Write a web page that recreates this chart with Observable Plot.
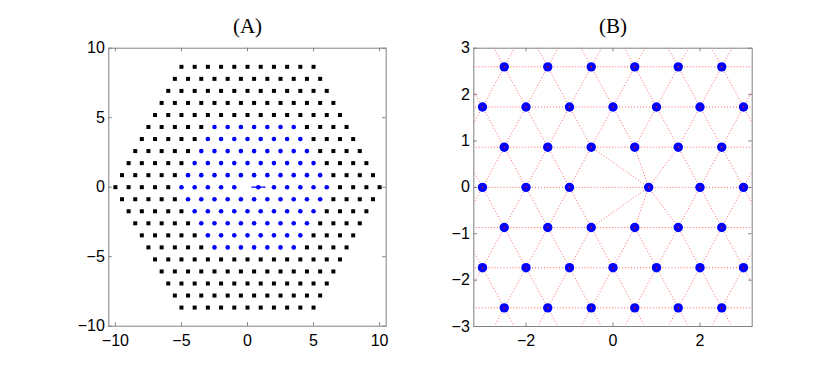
<!DOCTYPE html>
<html>
<head>
<meta charset="utf-8">
<script src="https://cdn.jsdelivr.net/npm/d3@7"></script>
<script src="https://cdn.jsdelivr.net/npm/@observablehq/plot@0.6"></script>
<style>
  html, body { margin: 0; padding: 0; background: #fff; }
  #wrap { position: relative; width: 830px; height: 389px; background: #fff; }
  #wrap svg { position: absolute; top: 0; }
</style>
</head>
<body>
<div id="wrap"></div>
<script>
// ---- Data: triangular lattice (spacing 1), rows k with y = k·√3/2 ----
const rowK       = [-10,-9,-8,-7,-6,-5,-4,-3,-2,-1,0,1,2,3,4,5,6,7,8,9,10];
const outerLeft  = [-5,-5.5,-6,-6.5,-7,-7.5,-8,-8.5,-9,-9.5,-10,-9.5,-9,-8.5,-8,-7.5,-7,-6.5,-6,-5.5,-5];
const outerRight = [5,5.5,6,6.5,7,7.5,8,8.5,9,9.5,10,9.5,9,8.5,8,7.5,7,6.5,6,5.5,5];
// inner (blue) region rows
const innerK     = [-5,-4,-3,-2,-1,0,1,2,3,4,5];
const innerLeft  = [-2.5,-3,-3.5,-4,-4.5,-5,-4.5,-4,-3.5,-3,-2.5];
const innerRight = [3.5,4,4.5,5,5.5,6,5.5,5,4.5,4,3.5];
// vacancies on row 0 and the displaced defect particle
const vacancyX   = [0, 1];
const defectX    = [0.82];
const defectY    = [0];
const defectPathX = [0.33, 1.33];
// neighbours of the defect in the mesh of panel B: [x, row k]
const defectNbrX = [-1, -0.5, 0.5, 1.5, 2, 1.5, 0.5, -0.5];
const defectNbrK = [0, 1, 1, 1, 0, -1, -1, -1];
// ticks
const ticksA  = [-10, -5, 0, 5, 10];
const ticksBx = [-2, 0, 2];
const ticksBy = [-3, -2, -1, 0, 1, 2, 3];
const titles  = ["(A)", "(B)"];

const H = Math.sqrt(3) / 2;
const blackPts = [], bluePts = [];
rowK.forEach((k, i) => {
  const ii = innerK.indexOf(k);
  for (let x = outerLeft[i]; x <= outerRight[i] + 1e-9; x += 1) {
    const inInner = ii >= 0 && x >= innerLeft[ii] - 1e-9 && x <= innerRight[ii] + 1e-9;
    if (inInner) {
      if (k === 0 && vacancyX.some(v => Math.abs(v - x) < 1e-9)) continue;
      bluePts.push({x, y: k * H});
    } else {
      blackPts.push({x, y: k * H});
    }
  }
});
const defectPts = defectX.map((x, i) => ({x, y: defectY[i]}));
const allBlue = bluePts.concat(defectPts);
const latticePts = blackPts.concat(bluePts);

// mesh edges: nearest-neighbour lattice bonds + bonds of the defect
const edges = [];
for (let i = 0; i < latticePts.length; i++) {
  for (let j = i + 1; j < latticePts.length; j++) {
    const a = latticePts[i], b = latticePts[j];
    const d = Math.hypot(a.x - b.x, a.y - b.y);
    if (Math.abs(d - 1) < 1e-6) edges.push({x1: a.x, y1: a.y, x2: b.x, y2: b.y});
  }
}
defectNbrX.forEach((x, i) => edges.push({x1: defectX[0], y1: defectY[0], x2: x, y2: defectNbrK[i] * H}));

const FONT = "'Liberation Sans', Arial, Helvetica, sans-serif";
const FRAME = "#808080";

function frameMarks(xt, yt, fw, fh) {
  const t = 3.5;
  return [
    Plot.frame({stroke: FRAME, strokeWidth: 1}),
    Plot.tickX(xt, {x: d => d, insetTop: fh - t, stroke: FRAME}),
    Plot.tickX(xt, {x: d => d, insetBottom: fh - t, stroke: FRAME}),
    Plot.tickY(yt, {y: d => d, insetRight: fw - t, stroke: FRAME}),
    Plot.tickY(yt, {y: d => d, insetLeft: fw - t, stroke: FRAME}),
    Plot.axisX(xt, {anchor: "bottom", tickSize: 0, tickPadding: 8, label: null, fontSize: 16, fill: "black"}),
    Plot.axisY(yt, {anchor: "left", tickSize: 0, tickPadding: 4, label: null, fontSize: 16, fill: "black"})
  ];
}
function titleMark(t) {
  return Plot.text([t], {frameAnchor: "top", dy: -21.5, text: d => d, fontSize: 21,
    fontFamily: "Liberation Serif", lineAnchor: "middle", fill: "black"});
}

// ---- Panel A ----
const WA = 415;
const mlA = 108.3, mrA = WA - 385.7, mtA = 47.7, mbA = 389 - 325.7;
const fwA = WA - mlA - mrA, fhA = 389 - mtA - mbA;
const plotA = Plot.plot({
  width: WA, height: 389,
  marginLeft: mlA, marginRight: mrA, marginTop: mtA, marginBottom: mbA,
  x: {domain: [-10.5, 10.5]},
  y: {domain: [-10, 10]},
  style: {fontFamily: FONT, fontSize: "16px", background: "transparent", color: "black"},
  marks: [
    Plot.dot(blackPts, {x: "x", y: "y", symbol: "square", r: 2.26, fill: "black", stroke: null}),
    Plot.dot(bluePts, {x: "x", y: "y", r: 2.3, fill: "#0000ff", stroke: null}),
    Plot.line(defectPathX.map(x => ({x, y: defectY[0]})), {x: "x", y: "y", stroke: "#0000ff", strokeWidth: 1.2}),
    Plot.dot(defectPts, {x: "x", y: "y", r: 2.3, fill: "#0000ff", stroke: null}),
    ...frameMarks(ticksA, ticksA, fwA, fhA),
    titleMark(titles[0])
  ]
});
plotA.style.left = "0px";

// ---- Panel B ----
const WB = 415;
const mlB = 473.3 - 415, mrB = 830 - 751.7, mtB = 47.7, mbB = 389 - 326;
const fwB = WB - mlB - mrB, fhB = 389 - mtB - mbB;
const inView = p => Math.abs(p.x) <= 3.2 && Math.abs(p.y) <= 3;
const plotB = Plot.plot({
  width: WB, height: 389,
  marginLeft: mlB, marginRight: mrB, marginTop: mtB, marginBottom: mbB,
  x: {domain: [-3.2, 3.2]},
  y: {domain: [-3, 3]},
  style: {fontFamily: FONT, fontSize: "16px", background: "transparent", color: "black"},
  marks: [
    Plot.link(edges, {x1: "x1", y1: "y1", x2: "x2", y2: "y2", stroke: "#ff0000", strokeOpacity: 0.6,
      strokeWidth: 1, strokeDasharray: "1,2", clip: true}),
    Plot.dot(allBlue.filter(inView), {x: "x", y: "y", r: 4.7, fill: "#0000ff", stroke: null}),
    Plot.dot(allBlue.filter(inView), {x: "x", y: "y", r: 0.8, fill: "#ff0000", stroke: null}),
    ...frameMarks(ticksBx, ticksBy, fwB, fhB),
    titleMark(titles[1])
  ]
});
plotB.style.left = "415px";

const wrap = document.getElementById("wrap");
wrap.appendChild(plotA);
wrap.appendChild(plotB);
</script>
</body>
</html>
